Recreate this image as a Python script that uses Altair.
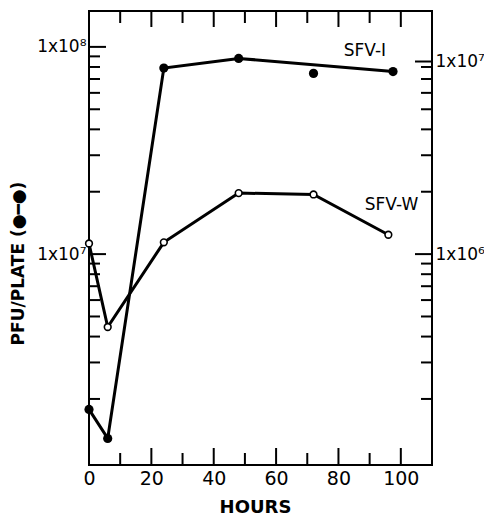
import altair as alt
import pandas as pd

# ---- data ----
hours_I = [0, 6, 24, 48, 72, 97.5]
pfu_I = [1.78e6, 1.29e6, 7.9e7, 8.8e7, 7.45e7, 7.6e7]
on_line_I = [True, True, True, True, False, True]

hours_W = [0, 6, 24, 48, 72, 96]
pfu_W = [1.125e7, 4.45e6, 1.14e7, 1.97e7, 1.94e7, 1.24e7]

series_names = ["SFV-I", "SFV-W"]
label_hours = [88.5, 97]
label_pfu = [9.6e7, 1.72e7]

left_tick_values = [1e7, 1e8]
left_tick_labels = ["1x10⁷", "1x10⁸"]
right_tick_values = [1e7, 8.5e7]
right_tick_labels = ["1x10⁶", "1x10⁷"]
left_minor = [2e6, 3e6, 4e6, 5e6, 6e6, 7e6, 8e6, 9e6,
              2e7, 3e7, 4e7, 5e7, 6e7, 7e7, 8e7, 9e7]
right_minor = [2e6, 3e6, 4e6, 5e6, 6e6, 7e6, 8e6, 9e6,
               2e7, 3e7, 4e7, 5e7, 6e7, 7e7, 8e7]
x_labels = [0, 20, 40, 60, 80, 100]
x_major_ticks = [20, 40, 60, 80, 100]
x_minor_ticks = [10, 30, 50, 70, 90]

W, H = 343, 454
FONT = "DejaVu Sans"

dI = pd.DataFrame({"h": hours_I, "v": pfu_I, "on": on_line_I})
dW = pd.DataFrame({"h": hours_W, "v": pfu_W})
dLab = pd.DataFrame({"h": label_hours, "v": label_pfu, "t": series_names})

xs = alt.Scale(domain=[0, 110], nice=False, zero=False)
ys = alt.Scale(type="log", domain=[9.6e5, 1.49e8], nice=False)


def lab_expr(vals, labs):
    parts = []
    for v, l in zip(vals, labs):
        parts.append(f"abs(datum.value - {v}) < {v * 0.01} ? '{l}'")
    return " : ".join(parts) + " : ''"


x_axis = alt.Axis(values=x_labels, ticks=False, domain=False, grid=False,
                  labelFlush=False, labelOverlap=False,
                  labelFont=FONT, labelFontSize=19, labelColor="black",
                  labelPadding=4, title="HOURS", titleFont=FONT,
                  titleFontSize=18, titleFontWeight="bold", titleColor="black",
                  titleX=166, titleY=42, titleBaseline="middle")
y_axis_left = alt.Axis(values=left_tick_values, ticks=False, domain=False,
                       grid=False, labelFlush=False,
                       labelExpr=lab_expr(left_tick_values, left_tick_labels),
                       labelFont=FONT, labelFontSize=17, labelColor="black",
                       labelPadding=3, title="PFU/PLATE (●━●)", titleFont=FONT,
                       titleFontSize=17, titleFontWeight="bold", titleColor="black",
                       titleAngle=270, titleX=-71, titleY=252,
                       titleAlign="center", titleBaseline="middle")
y_axis_right = alt.Axis(orient="right", values=right_tick_values, ticks=False,
                        domain=False, grid=False, labelFlush=False,
                        labelExpr=lab_expr(right_tick_values, right_tick_labels),
                        labelFont=FONT, labelFontSize=17, labelColor="black",
                        labelPadding=3, title=None)


def X(field="h"):
    return alt.X(f"{field}:Q", scale=xs, axis=x_axis)


line_I = alt.Chart(dI).transform_filter("datum.on").mark_line(
    color="black", strokeWidth=3).encode(
    x=X(), y=alt.Y("v:Q", scale=ys, axis=y_axis_left))
line_W = alt.Chart(dW).mark_line(color="black", strokeWidth=3).encode(
    x=X(), y=alt.Y("v:Q", scale=ys, axis=None))
pts_I = alt.Chart(dI).mark_point(shape="circle", filled=True, color="black",
                                 size=85, opacity=1).encode(
    x=X(), y=alt.Y("v:Q", scale=ys, axis=None))
pts_W = alt.Chart(dW).mark_point(shape="circle", filled=True, fill="white",
                                 stroke="black", strokeWidth=1.6, size=45,
                                 opacity=1).encode(
    x=X(), y=alt.Y("v:Q", scale=ys, axis=None))
labels = alt.Chart(dLab).mark_text(font=FONT, fontSize=17, color="black",
                                   align="center", baseline="middle").encode(
    x=X(), y=alt.Y("v:Q", scale=ys, axis=None), text="t:N")

# inward tick marks
lmaj = alt.Chart(pd.DataFrame({"v": left_tick_values})).mark_rule(
    color="black", strokeWidth=2).encode(
    y=alt.Y("v:Q", scale=ys, axis=None), x=alt.value(0), x2=alt.value(17))
lmin = alt.Chart(pd.DataFrame({"v": left_minor})).mark_rule(
    color="black", strokeWidth=2).encode(
    y=alt.Y("v:Q", scale=ys, axis=None), x=alt.value(0), x2=alt.value(11))
rmaj = alt.Chart(pd.DataFrame({"v": right_tick_values})).mark_rule(
    color="black", strokeWidth=2).encode(
    y=alt.Y("v:Q", scale=ys, axis=y_axis_right), x=alt.value(W), x2=alt.value(W - 17))
rmin = alt.Chart(pd.DataFrame({"v": right_minor})).mark_rule(
    color="black", strokeWidth=2).encode(
    y=alt.Y("v:Q", scale=ys, axis=None), x=alt.value(W), x2=alt.value(W - 11))
xmaj_b = alt.Chart(pd.DataFrame({"h": x_major_ticks})).mark_rule(
    color="black", strokeWidth=2).encode(
    x=X(), y=alt.value(H), y2=alt.value(H - 17))
xmin_b = alt.Chart(pd.DataFrame({"h": x_minor_ticks})).mark_rule(
    color="black", strokeWidth=2).encode(
    x=X(), y=alt.value(H), y2=alt.value(H - 12))
xmaj_t = alt.Chart(pd.DataFrame({"h": x_major_ticks})).mark_rule(
    color="black", strokeWidth=2).encode(
    x=X(), y=alt.value(0), y2=alt.value(16))
xmin_t = alt.Chart(pd.DataFrame({"h": x_minor_ticks})).mark_rule(
    color="black", strokeWidth=2).encode(
    x=X(), y=alt.value(0), y2=alt.value(12))

chart = alt.layer(
    line_I, rmaj, lmaj, lmin, rmin, xmaj_b, xmin_b, xmaj_t, xmin_t,
    line_W, pts_I, pts_W, labels
).resolve_axis(y="independent").properties(
    width=W, height=H, autosize="none",
    padding={"left": 81, "top": 3, "right": 52, "bottom": 54},
    background="white"
).configure_view(stroke="black", strokeWidth=2)

chart.save("out.html", embed_options={"renderer": "svg", "actions": False})
